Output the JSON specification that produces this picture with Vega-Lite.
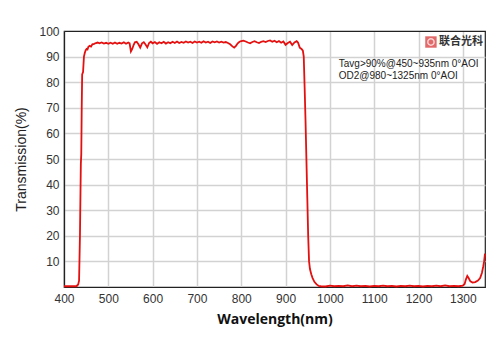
{
  "$schema": "https://vega.github.io/schema/vega-lite/v6.json",
  "autosize": {"type": "none"},
  "padding": {"left": 64, "top": 31, "right": 15, "bottom": 66},
  "width": 421,
  "height": 256,
  "background": "white",
  "config": {
    "view": {"stroke": "#222", "strokeWidth": 1.2},
    "font": "Liberation Sans"
  },
  "datasets": {
    "curve": [
      {"wl": 400, "t": 0.3}, {"wl": 410, "t": 0.3}, {"wl": 420, "t": 0.3}, {"wl": 428, "t": 0.3},
      {"wl": 432, "t": 1.0}, {"wl": 434, "t": 2.5}, {"wl": 436, "t": 20}, {"wl": 438, "t": 48},
      {"wl": 439, "t": 52}, {"wl": 440, "t": 70}, {"wl": 441, "t": 83}, {"wl": 443, "t": 84},
      {"wl": 445, "t": 90}, {"wl": 447, "t": 91.5}, {"wl": 449, "t": 92.5}, {"wl": 451, "t": 93},
      {"wl": 453, "t": 92.8}, {"wl": 455, "t": 93.8}, {"wl": 458, "t": 94.2}, {"wl": 461, "t": 93.9},
      {"wl": 464, "t": 94.8}, {"wl": 468, "t": 95.0}, {"wl": 472, "t": 95.3}, {"wl": 476, "t": 95.5},
      {"wl": 480, "t": 95.2}, {"wl": 485, "t": 95.5}, {"wl": 490, "t": 95.1}, {"wl": 495, "t": 95.4},
      {"wl": 500, "t": 95.0}, {"wl": 505, "t": 95.4}, {"wl": 510, "t": 95.0}, {"wl": 515, "t": 95.5},
      {"wl": 520, "t": 95.0}, {"wl": 525, "t": 95.4}, {"wl": 530, "t": 95.1}, {"wl": 535, "t": 95.6},
      {"wl": 540, "t": 95.0}, {"wl": 545, "t": 95.5}, {"wl": 548, "t": 95.2}, {"wl": 551, "t": 92.0},
      {"wl": 554, "t": 93.0}, {"wl": 557, "t": 94.5}, {"wl": 560, "t": 95.6}, {"wl": 564, "t": 95.8},
      {"wl": 568, "t": 94.8}, {"wl": 572, "t": 93.5}, {"wl": 576, "t": 95.2}, {"wl": 580, "t": 95.6},
      {"wl": 584, "t": 94.7}, {"wl": 588, "t": 93.6}, {"wl": 592, "t": 95.3}, {"wl": 596, "t": 95.8},
      {"wl": 600, "t": 95.2}, {"wl": 605, "t": 95.7}, {"wl": 610, "t": 95.0}, {"wl": 615, "t": 95.6},
      {"wl": 620, "t": 95.2}, {"wl": 625, "t": 95.8}, {"wl": 630, "t": 95.1}, {"wl": 635, "t": 95.6},
      {"wl": 640, "t": 95.2}, {"wl": 645, "t": 95.8}, {"wl": 650, "t": 95.3}, {"wl": 655, "t": 95.9},
      {"wl": 660, "t": 95.3}, {"wl": 665, "t": 95.7}, {"wl": 670, "t": 95.4}, {"wl": 675, "t": 95.9},
      {"wl": 680, "t": 95.5}, {"wl": 685, "t": 95.8}, {"wl": 690, "t": 95.3}, {"wl": 695, "t": 95.9},
      {"wl": 700, "t": 95.5}, {"wl": 705, "t": 95.8}, {"wl": 710, "t": 95.4}, {"wl": 715, "t": 96.0},
      {"wl": 720, "t": 95.5}, {"wl": 725, "t": 95.8}, {"wl": 730, "t": 95.3}, {"wl": 735, "t": 95.9},
      {"wl": 740, "t": 95.6}, {"wl": 745, "t": 95.9}, {"wl": 750, "t": 95.5}, {"wl": 755, "t": 95.8},
      {"wl": 760, "t": 95.5}, {"wl": 765, "t": 95.7}, {"wl": 770, "t": 95.3}, {"wl": 775, "t": 94.8},
      {"wl": 780, "t": 94.0}, {"wl": 784, "t": 93.5}, {"wl": 788, "t": 94.2}, {"wl": 792, "t": 95.2},
      {"wl": 796, "t": 95.8}, {"wl": 800, "t": 96.0}, {"wl": 805, "t": 96.2}, {"wl": 810, "t": 95.9},
      {"wl": 815, "t": 95.5}, {"wl": 820, "t": 95.2}, {"wl": 825, "t": 95.7}, {"wl": 830, "t": 96.0},
      {"wl": 835, "t": 95.6}, {"wl": 840, "t": 95.3}, {"wl": 845, "t": 95.8}, {"wl": 850, "t": 96.0},
      {"wl": 855, "t": 95.7}, {"wl": 860, "t": 96.1}, {"wl": 865, "t": 96.3}, {"wl": 870, "t": 95.8},
      {"wl": 875, "t": 96.2}, {"wl": 880, "t": 95.6}, {"wl": 885, "t": 96.1}, {"wl": 890, "t": 95.4},
      {"wl": 895, "t": 95.9}, {"wl": 900, "t": 94.6}, {"wl": 905, "t": 95.3}, {"wl": 910, "t": 95.8},
      {"wl": 915, "t": 94.5}, {"wl": 920, "t": 95.5}, {"wl": 925, "t": 96.0}, {"wl": 928, "t": 95.5},
      {"wl": 932, "t": 93.5}, {"wl": 936, "t": 93.0}, {"wl": 939, "t": 92.3}, {"wl": 941, "t": 90},
      {"wl": 943, "t": 78}, {"wl": 945, "t": 65}, {"wl": 947, "t": 50}, {"wl": 949, "t": 35},
      {"wl": 951, "t": 20}, {"wl": 953, "t": 10}, {"wl": 955, "t": 7}, {"wl": 958, "t": 5},
      {"wl": 961, "t": 3.5}, {"wl": 965, "t": 2}, {"wl": 970, "t": 1}, {"wl": 975, "t": 0.4},
      {"wl": 980, "t": 0.3}, {"wl": 990, "t": 0.2}, {"wl": 1000, "t": 0.5}, {"wl": 1010, "t": 0.3},
      {"wl": 1020, "t": 0.4}, {"wl": 1030, "t": 0.3}, {"wl": 1040, "t": 0.6}, {"wl": 1050, "t": 0.3},
      {"wl": 1060, "t": 0.5}, {"wl": 1070, "t": 0.3}, {"wl": 1080, "t": 0.4}, {"wl": 1090, "t": 0.2},
      {"wl": 1100, "t": 0.4}, {"wl": 1110, "t": 0.3}, {"wl": 1120, "t": 0.5}, {"wl": 1130, "t": 0.3},
      {"wl": 1140, "t": 0.4}, {"wl": 1150, "t": 0.2}, {"wl": 1160, "t": 0.4}, {"wl": 1170, "t": 0.3},
      {"wl": 1180, "t": 0.5}, {"wl": 1190, "t": 0.3}, {"wl": 1200, "t": 0.4}, {"wl": 1210, "t": 0.2},
      {"wl": 1220, "t": 0.4}, {"wl": 1230, "t": 0.3}, {"wl": 1240, "t": 0.5}, {"wl": 1250, "t": 0.3},
      {"wl": 1260, "t": 0.6}, {"wl": 1270, "t": 0.3}, {"wl": 1280, "t": 0.4}, {"wl": 1290, "t": 0.3},
      {"wl": 1300, "t": 0.5}, {"wl": 1304, "t": 1.2}, {"wl": 1307, "t": 3}, {"wl": 1310, "t": 4.3},
      {"wl": 1313, "t": 3.5}, {"wl": 1317, "t": 2.2}, {"wl": 1322, "t": 1.7}, {"wl": 1328, "t": 1.9},
      {"wl": 1334, "t": 2.5}, {"wl": 1339, "t": 3.5}, {"wl": 1343, "t": 5.5}, {"wl": 1346, "t": 8},
      {"wl": 1348, "t": 10}, {"wl": 1350, "t": 13}
    ],
    "notes": [
      {"wl": 1020, "t": 87.1, "label": "Tavg>90%@450~935nm 0°AOI"},
      {"wl": 1020, "t": 82.4, "label": "OD2@980~1325nm 0°AOI"}
    ],
    "logo": [
      {"wl": 1228, "t": 95.7, "label": "联合光科", "lx": 1246}
    ]
  },
  "layer": [
    {
      "data": {"name": "curve"},
      "mark": {"type": "line", "color": "#e41010", "strokeWidth": 1.8, "interpolate": "linear"},
      "encoding": {
        "x": {
          "field": "wl", "type": "quantitative",
          "scale": {"domain": [400, 1350], "nice": false, "zero": false},
          "axis": {
            "values": [400, 500, 600, 700, 800, 900, 1000, 1100, 1200, 1300],
            "tickCount": 20,
            "format": "d",
            "labelOverlap": false,
            "title": "Wavelength(nm)",
            "titleFont": "Open Sans", "titleFontSize": 14, "titleFontWeight": "bold", "titleColor": "#111",
            "titlePadding": 8,
            "labelFontSize": 12, "labelColor": "#333", "labelPadding": 6, "labelFlush": false,
            "ticks": false, "domainColor": "#222", "domainWidth": 1.2,
            "grid": true, "gridColor": "#d2d2d2", "gridWidth": 1.5
          }
        },
        "y": {
          "field": "t", "type": "quantitative",
          "scale": {"domain": [0, 100], "nice": false},
          "axis": {
            "values": [10, 20, 30, 40, 50, 60, 70, 80, 90, 100],
            "tickCount": 20,
            "format": "d",
            "labelOverlap": false,
            "title": "Transmission(%)",
            "titleFontSize": 14, "titleFontWeight": "normal", "titleColor": "#222",
            "titlePadding": 10,
            "labelFontSize": 12, "labelColor": "#333", "labelPadding": 5, "labelFlush": false,
            "ticks": false, "domainColor": "#222", "domainWidth": 1.2,
            "grid": true,
            "gridColor": {"condition": {"test": "datum.value === 100", "value": "#222"}, "value": "#d2d2d2"},
            "gridWidth": {"condition": {"test": "datum.value === 100", "value": 1.2}, "value": 1.5}
          }
        }
      }
    },
    {
      "data": {"name": "notes"},
      "mark": {"type": "text", "align": "left", "baseline": "middle", "fontSize": 10, "color": "#222"},
      "encoding": {
        "x": {"field": "wl", "type": "quantitative"},
        "y": {"field": "t", "type": "quantitative"},
        "text": {"field": "label"}
      }
    },
    {
      "data": {"name": "logo"},
      "mark": {"type": "point", "shape": "square", "filled": true, "size": 130, "color": "#d62a2a"},
      "encoding": {
        "x": {"field": "wl", "type": "quantitative"},
        "y": {"field": "t", "type": "quantitative"}
      }
    },
    {
      "data": {"name": "logo"},
      "mark": {"type": "point", "shape": "circle", "filled": false, "size": 40, "color": "white", "strokeWidth": 1.5},
      "encoding": {
        "x": {"field": "wl", "type": "quantitative"},
        "y": {"field": "t", "type": "quantitative"}
      }
    },
    {
      "data": {"name": "logo"},
      "mark": {"type": "text", "align": "left", "baseline": "middle", "fontSize": 11, "fontWeight": "bold", "font": "Noto Sans CJK SC", "color": "#333"},
      "encoding": {
        "x": {"field": "lx", "type": "quantitative"},
        "y": {"field": "t", "type": "quantitative"},
        "text": {"field": "label"}
      }
    }
  ]
}
